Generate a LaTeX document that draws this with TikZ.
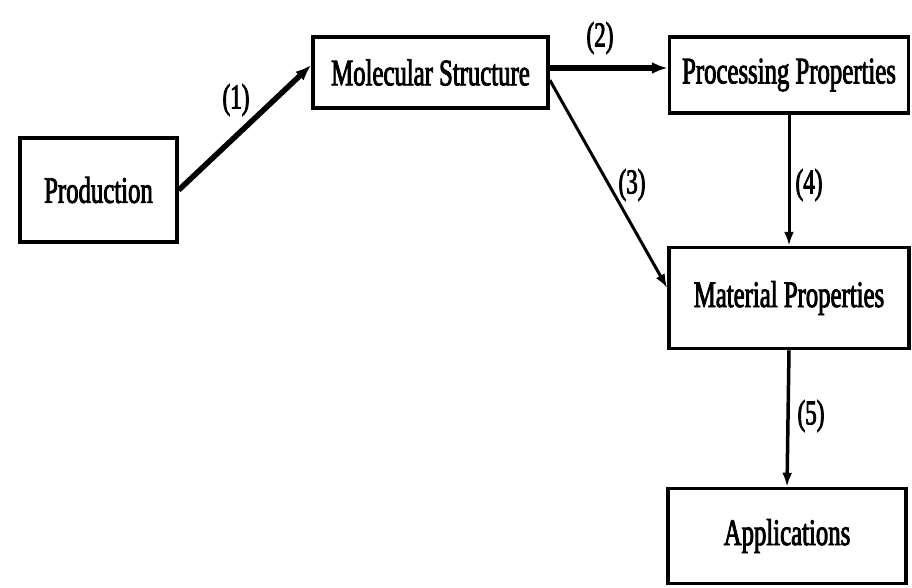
\documentclass[tikz,border=0pt]{standalone}
\usepackage{fontspec}
\setmainfont{Liberation Serif}[FakeStretch=0.66,FakeBold=2.2]
\usetikzlibrary{arrows.meta}
\begin{document}
\begin{tikzpicture}[x=1pt,y=-1pt,
  box/.style={draw,line width=3.5pt,inner sep=0pt,font=\fontsize{37.5}{40}\selectfont},
  conn/.style={line width=3pt,-{Latex[length=14pt,width=10pt]}},
  thick conn/.style={line width=5.5pt,-{Latex[length=16pt,width=12pt]}},
  lbl/.style={font=\fontsize{35}{38}\selectfont}]
\useasboundingbox (0,0) rectangle (912,587);
\node[box,minimum width=157pt,minimum height=104pt] (prod) at (98.5,190) {Production};
\node[box,minimum width=235pt,minimum height=71pt] (mol) at (430.5,72.5) {Molecular Structure};
\node[box,minimum width=239pt,minimum height=76pt] (proc) at (789,75) {Processing Properties};
\node[box,minimum width=240pt,minimum height=101pt] (mat) at (789,298) {Material Properties};
\node[box,minimum width=238pt,minimum height=95pt] (app) at (787,536) {Applications};
\draw[thick conn] (prod.east) -- (mol.west |- 0,65);
\draw[thick conn] (mol.east |- 0,68) -- (proc.west |- 0,68);
\draw[conn] (mol.east |- 0,80) -- (mat.west |- 0,288);
\draw[conn] (proc.south) -- (mat.north);
\draw[conn,line width=3.5pt] (mat.south) -- (app.north);
\node[lbl] (l1) at (236,100) {(1)};
\node[lbl] (l2) at (600,38) {(2)};
\node[lbl] (l3) at (632,185) {(3)};
\node[lbl] (l4) at (809,185) {(4)};
\node[lbl] (l5) at (811,416) {(5)};
\end{tikzpicture}
\end{document}
